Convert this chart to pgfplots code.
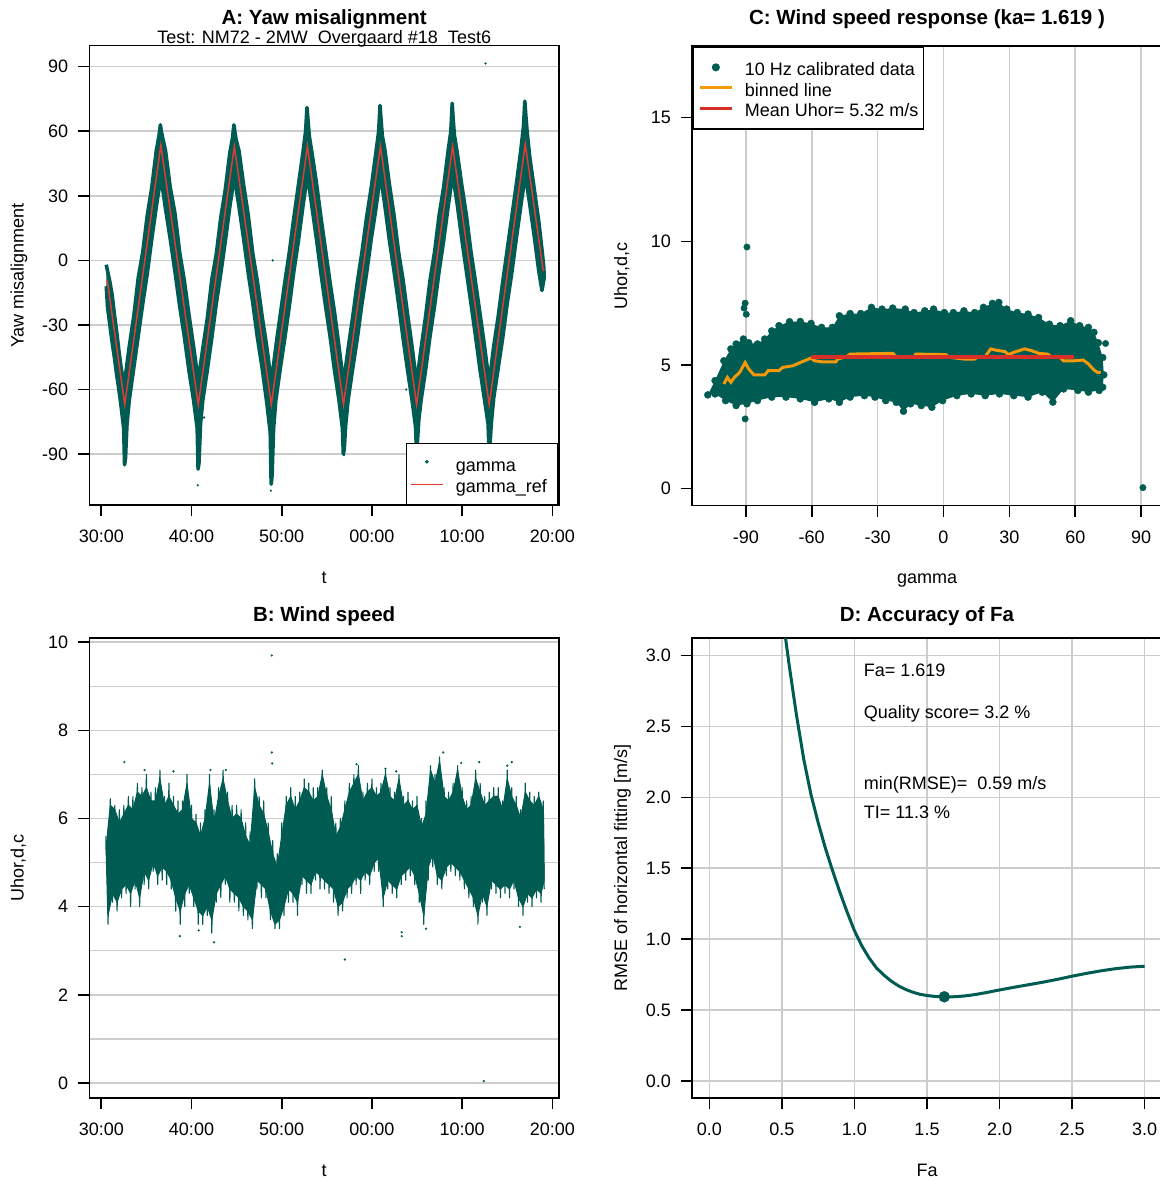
\documentclass[border=0pt]{standalone}
\usepackage{fontspec}
\setmainfont{Liberation Sans}
\usepackage{pgfplots}
\pgfplotsset{compat=1.18}
\newcommand\fnormal{\fontsize{18bp}{21bp}\selectfont}
\newcommand\ftitle{\fontsize{20.5bp}{24bp}\selectfont\bfseries}
\definecolor{tealc}{RGB}{0,92,82}
\definecolor{redA}{RGB}{226,58,52}
\definecolor{orangeC}{RGB}{245,152,10}
\definecolor{redC}{RGB}{214,48,40}
\definecolor{gridc}{RGB}{204,204,204}
\pgfplotsset{
 rstyle/.style={
  scale only axis,
  axis line style={line width=1.6bp,black},
  tick style={line width=1.6bp,black},
  major tick length=11bp,
  minor tick length=0bp,
  tick align=outside,
  xtick pos=left, ytick pos=left,
  ticklabel style={font=\fnormal},
  xticklabel style={anchor=center, yshift=-20.4bp},
  yticklabel style={anchor=east, inner sep=0pt, xshift=-10bp},
  grid style={line width=1.6bp, gridc},
  minor grid style={line width=1.6bp, gridc},
 },
 lineimg/.style={legend image code/.code={\draw[##1] (0bp,#1) -- (32.6bp,#1);}},
 markimg/.style={legend image code/.code={\draw[mark repeat=2,mark phase=2,##1] plot coordinates {(0bp,#1) (16.3bp,#1) (32.6bp,#1)};}},
}
\begin{document}
\begin{tikzpicture}
% ---------------- A ----------------
\begin{axis}[rstyle, at={(89.3bp,674.7bp)}, anchor=south west,
 width=469.7bp, height=459.6bp,
 xmin=28.67, xmax=80.74, ymin=-113.8, ymax=99.76,
 xtick={30,40,50,60,70,80}, xticklabels={30:00,40:00,50:00,00:00,10:00,20:00},
 ytick={-90,-60,-30,0,30,60,90}, yticklabels={-90,-60,-30,0,30,60,90},
 ymajorgrids,
 legend cell align=left,
 legend style={at={(1,0)}, anchor=south east, draw=black, line width=1.6bp, fill=white,
   font=\fnormal, inner xsep=3.4bp, inner ysep=12bp, row sep=4.2bp, column sep=0bp,
   nodes={inner sep=0pt, text height=16.4bp, text depth=0bp, text width=98.9bp, align=left},
   /tikz/every odd column/.append style={column sep=12bp}},
]
\addplot[fill=tealc, draw=tealc, line width=3.6bp, line join=round, forget plot] coordinates {
(30.55,-2) (30.7,-5) (30.95,-10) (31.2,-16) (31.45,-25) (31.7,-33) (31.95,-42) (32.2,-50) (32.45,-56) (32.6,-56)
(33.1,-40) (33.6,-26) (34.1,-8) (34.6,4) (35.1,21) (35.6,34) (36.1,51) (36.4,58) (36.55,63) (36.65,60) (36.8,57)
(37.12,51) (37.64,34) (38.16,22) (38.68,4) (39.19,-9) (39.71,-25) (40.23,-40) (40.75,-56)
(41.25,-41) (41.75,-27) (42.25,-9) (42.75,3) (43.25,20) (43.75,33) (44.25,50) (44.55,57) (44.7,63) (44.8,60) (44.95,56)
(45.26,51) (45.78,35) (46.29,21) (46.8,3) (47.31,-10) (47.83,-26) (48.34,-40) (48.85,-57)
(49.35,-40) (49.85,-25) (50.35,-10) (50.85,4) (51.35,20) (51.85,35) (52.35,50) (52.65,60) (52.8,71) (52.9,66) (53.05,58)
(53.35,50) (53.85,36) (54.35,20) (54.85,5) (55.35,-10) (55.85,-24) (56.35,-40) (56.85,-57)
(57.36,-41) (57.88,-26) (58.39,-10) (58.9,4) (59.41,20) (59.93,34) (60.44,50) (60.75,60) (60.9,72) (61.0,66) (61.15,58)
(61.45,51) (61.95,35) (62.45,21) (62.95,4) (63.45,-9) (63.95,-25) (64.45,-40) (64.95,-57)
(65.45,-41) (65.95,-26) (66.45,-9) (66.95,4) (67.45,21) (67.95,34) (68.45,51) (68.75,60) (68.9,73) (69.0,66) (69.15,58)
(69.46,50) (69.96,35) (70.47,21) (70.98,4) (71.48,-10) (71.99,-25) (72.49,-40) (73.0,-57)
(73.5,-40) (74.0,-26) (74.5,-10) (75.0,5) (75.5,20) (76.0,35) (76.5,51) (76.8,62) (76.95,74) (77.05,68) (77.2,60)
(77.5,48) (78.0,33) (78.5,18) (78.85,5) (79.05,-3)
(79.1,-8) (78.85,-14) (78.5,-5) (78.0,11) (77.5,26) (77.0,40)
(76.5,25) (76.0,10) (75.5,-6) (75.0,-20) (74.5,-36) (74.0,-50) (73.5,-64) (73.25,-75) (73.08,-86) (72.98,-88) (72.88,-76)
(72.49,-65) (71.99,-51) (71.48,-35) (70.98,-20) (70.47,-5) (69.96,10) (69.46,26) (68.95,40)
(68.45,25) (67.95,9) (67.45,-5) (66.95,-21) (66.45,-35) (65.95,-51) (65.45,-65) (65.2,-74) (65.03,-85) (64.93,-87) (64.83,-77)
(64.45,-65) (63.95,-51) (63.45,-36) (62.95,-20) (62.45,-5) (61.95,9) (61.45,25) (60.95,40)
(60.44,24) (59.93,10) (59.41,-6) (58.9,-20) (58.39,-36) (57.88,-50) (57.36,-65) (57.1,-76) (56.93,-88) (56.83,-90) (56.73,-78)
(56.35,-65) (55.85,-51) (55.35,-35) (54.85,-21) (54.35,-6) (53.85,10) (53.35,25) (52.85,40)
(52.35,25) (51.85,9) (51.35,-5) (50.85,-21) (50.35,-36) (49.85,-50) (49.35,-65) (49.1,-78) (48.93,-100) (48.83,-104) (48.73,-80)
(48.34,-66) (47.83,-50) (47.31,-36) (46.8,-20) (46.29,-6) (45.78,10) (45.26,25) (44.75,39)
(44.25,25) (43.75,9) (43.25,-6) (42.75,-20) (42.25,-36) (41.75,-51) (41.25,-65) (41.0,-76) (40.83,-94) (40.73,-97) (40.63,-78)
(40.23,-65) (39.71,-51) (39.19,-35) (38.68,-21) (38.16,-5) (37.64,10) (37.12,24) (36.6,39)
(36.1,25) (35.6,10) (35.1,-6) (34.6,-20) (34.1,-35) (33.6,-50) (33.1,-65) (32.85,-76) (32.68,-92) (32.58,-95) (32.48,-78)
(32.2,-68) (31.95,-60) (31.7,-53) (31.45,-45) (31.2,-38) (30.95,-30) (30.7,-22) (30.55,-12)
};
\addplot[only marks, mark=*, mark size=0.9bp, tealc, markimg=2bp] coordinates {
(72.6,91.5) (49.0,0) (40.7,-104.5) (48.8,-107) (56.9,-90.5) (63.8,-60) (41.4,-73)
};
\addplot[redA, line width=1.5bp, lineimg=0bp] coordinates {
(30.65,-9) (32.6,-67) (36.6,53.5) (40.75,-67) (44.75,53) (48.85,-67) (52.85,53) (56.85,-67)
(60.95,53) (64.95,-67) (68.95,53) (73.0,-67) (77.0,54) (79.0,-5)
};
\legend{gamma, gamma\_ref}
\end{axis}
% ---------------- B ----------------
\begin{axis}[rstyle, at={(89.3bp,81.7bp)}, anchor=south west,
 width=469.7bp, height=460bp,
 xmin=28.67, xmax=80.74, ymin=-0.35, ymax=10.09,
 xtick={30,40,50,60,70,80}, xticklabels={30:00,40:00,50:00,00:00,10:00,20:00},
 ytick={0,2,4,6,8,10}, yticklabels={0,2,4,6,8,10},
 minor ytick={1,3,5,7,9},
 ymajorgrids, yminorgrids,
]
\addplot[fill=tealc, draw=tealc, line width=1bp, line join=round] coordinates {
(30.5,5.3) (31.0,6.3) (31.5,6.2) (32.0,5.9) (32.5,6.1) (33.0,6.3) (33.5,6.2) (34.0,6.6) (34.5,6.5)
(35.0,6.7) (35.5,6.4) (36.0,6.4) (36.5,6.9) (37.0,6.3) (37.5,6.5) (38.0,6.3) (38.5,6.1) (39.0,6.2)
(39.5,6.8) (40.0,6.0) (40.5,5.9) (41.0,5.6) (41.5,6.0) (42.0,6.8) (42.5,5.9) (43.0,6.5) (43.5,6.9)
(44.0,6.4) (44.5,6.0) (45.0,6.1) (45.5,6.0) (46.0,5.6) (46.5,5.4) (47.0,6.7) (47.5,6.3) (48.0,6.1)
(48.5,5.7) (49.0,5.2) (49.5,4.9) (50.0,5.6) (50.5,6.3) (51.0,6.5) (51.5,6.2) (52.0,6.4) (52.5,6.7)
(53.0,6.6) (53.5,6.4) (54.0,6.5) (54.5,7.0) (55.0,6.5) (55.5,6.2) (56.0,5.6) (56.5,5.8) (57.0,6.2)
(57.5,6.6) (58.0,6.8) (58.5,7.0) (59.0,6.4) (59.5,6.6) (60.0,6.7) (60.5,6.5) (61.0,6.6) (61.5,7.0)
(62.0,6.5) (62.5,6.4) (63.0,6.9) (63.5,6.3) (64.0,6.4) (64.5,6.2) (65.0,6.3) (65.5,5.8) (66.0,6.1)
(66.5,7.1) (67.0,6.8) (67.5,7.3) (68.0,6.5) (68.5,6.4) (69.0,6.6) (69.5,7.1) (70.0,6.5) (70.5,6.2)
(71.0,6.3) (71.5,6.9) (72.0,6.6) (72.5,6.3) (73.0,6.4) (73.5,6.5) (74.0,6.5) (74.5,6.2) (75.0,6.9)
(75.5,6.5) (76.0,6.3) (76.5,6.0) (77.0,6.6) (77.5,6.4) (78.0,6.3) (78.5,6.5) (79.0,6.2)
(79.1,4.6) (78.75,4.3) (78.25,4.4) (77.75,4.2) (77.25,4.3) (76.75,4.0) (76.25,4.2) (75.75,4.6)
(75.25,4.4) (74.75,4.5) (74.25,4.4) (73.75,4.5) (73.25,4.6) (72.75,4.0) (72.25,4.3) (71.75,3.8)
(71.25,4.2) (70.75,4.4) (70.25,4.6) (69.75,4.8) (69.25,4.9) (68.75,5.0) (68.25,4.9) (67.75,4.6)
(67.25,4.7) (66.75,5.2) (66.25,4.9) (65.75,3.8) (65.25,4.3) (64.75,4.7) (64.25,4.9) (63.75,4.8)
(63.25,4.7) (62.75,4.4) (62.25,4.5) (61.75,4.6) (61.25,4.2) (60.75,5.1) (60.25,5.0) (59.75,4.7)
(59.25,4.8) (58.75,4.6) (58.25,4.7) (57.75,4.5) (57.25,4.4) (56.75,4.1) (56.25,4.0) (55.75,4.4)
(55.25,4.5) (54.75,4.6) (54.25,4.7) (53.75,4.8) (53.25,4.5) (52.75,4.6) (52.25,4.7) (51.75,4.1)
(51.25,4.3) (50.75,4.4) (50.25,4.0) (49.75,3.7) (49.25,3.6) (48.75,3.9) (48.25,4.4) (47.75,4.5)
(47.25,4.6) (46.75,3.7) (46.25,3.9) (45.75,4.0) (45.25,4.2) (44.75,4.3) (44.25,4.4) (43.75,4.7)
(43.25,4.5) (42.75,4.3) (42.25,3.7) (41.75,4.0) (41.25,3.8) (40.75,3.9) (40.25,4.2) (39.75,4.5)
(39.25,4.3) (38.75,3.9) (38.25,4.2) (37.75,4.6) (37.25,4.8) (36.75,4.9) (36.25,4.7) (35.75,5.0)
(35.25,4.6) (34.75,4.8) (34.25,4.2) (33.75,4.6) (33.25,4.3) (32.75,4.5) (32.25,4.4) (31.75,4.1)
(31.25,4.3) (30.75,3.8)
};
\addplot[tealc, line width=1.1bp, line join=round] coordinates {
(30.50,5.6) (30.75,3.6)
(31.00,6.45) (31.25,4.1) (31.50,6.3) (31.75,3.9)
(32.00,6.2) (32.25,4.2) (32.50,6.3) (32.75,4.3)
(33.00,6.5) (33.25,4.0) (33.50,6.5) (33.75,4.4)
(34.00,6.8) (34.25,4.0) (34.50,6.7) (34.75,4.5)
(35.00,7.0) (35.25,4.4) (35.50,6.6) (35.75,4.8)
(36.00,6.7) (36.25,4.5) (36.50,7.1) (36.75,4.6)
(37.00,6.5) (37.25,4.5) (37.50,6.8) (37.75,4.4)
(38.00,6.5) (38.25,3.9) (38.50,6.4) (38.75,3.6)
(39.00,6.4) (39.25,4.0) (39.50,7.0) (39.75,4.3)
(40.00,6.3) (40.25,4.0) (40.50,6.1) (40.75,3.6)
(41.00,5.9) (41.25,3.6) (41.50,6.2) (41.75,3.8)
(42.00,7.0) (42.25,3.4) (42.50,6.2) (42.75,4.1)
(43.00,6.7) (43.25,4.2) (43.50,7.1) (43.75,4.5)
(44.00,6.6) (44.25,4.1) (44.50,6.3) (44.75,4.1)
(45.00,6.3) (45.25,3.9) (45.50,6.2) (45.75,3.8)
(46.00,5.9) (46.25,3.7) (46.50,5.7) (46.75,3.5)
(47.00,6.9) (47.25,4.4) (47.50,6.5) (47.75,4.2)
(48.00,6.4) (48.25,4.2) (48.50,5.9) (48.75,3.7)
(49.00,5.5) (49.25,3.5) (49.50,5.2) (49.75,3.5)
(50.00,5.9) (50.25,3.8) (50.50,6.5) (50.75,4.1)
(51.00,6.7) (51.25,4.1) (51.50,6.5) (51.75,3.8)
(52.00,6.6) (52.25,4.5) (52.50,6.9) (52.75,4.3)
(53.00,6.8) (53.25,4.3) (53.50,6.7) (53.75,4.6)
(54.00,6.7) (54.25,4.4) (54.50,7.1) (54.75,4.4)
(55.00,6.7) (55.25,4.3) (55.50,6.5) (55.75,4.1)
(56.00,5.9) (56.25,3.8) (56.50,6.0) (56.75,3.9)
(57.00,6.4) (57.25,4.2) (57.50,6.8) (57.75,4.3)
(58.00,7.0) (58.25,4.5) (58.50,7.2) (58.75,4.3)
(59.00,6.6) (59.25,4.6) (59.50,6.8) (59.75,4.5)
(60.00,6.9) (60.25,4.8) (60.50,6.7) (60.75,4.8)
(61.00,6.8) (61.25,4.0) (61.50,7.1) (61.75,4.4)
(62.00,6.7) (62.25,4.3) (62.50,6.6) (62.75,4.2)
(63.00,7.0) (63.25,4.5) (63.50,6.5) (63.75,4.6)
(64.00,6.6) (64.25,4.7) (64.50,6.4) (64.75,4.5)
(65.00,6.5) (65.25,4.1) (65.50,6.0) (65.75,3.6)
(66.00,6.4) (66.25,4.6) (66.50,7.2) (66.75,4.9)
(67.00,7.0) (67.25,4.5) (67.50,7.4) (67.75,4.4)
(68.00,6.7) (68.25,4.7) (68.50,6.6) (68.75,4.8)
(69.00,6.8) (69.25,4.7) (69.50,7.2) (69.75,4.6)
(70.00,6.7) (70.25,4.4) (70.50,6.4) (70.75,4.2)
(71.00,6.5) (71.25,4.0) (71.50,7.1) (71.75,3.6)
(72.00,6.8) (72.25,4.1) (72.50,6.5) (72.75,3.8)
(73.00,6.6) (73.25,4.4) (73.50,6.7) (73.75,4.3)
(74.00,6.7) (74.25,4.2) (74.50,6.4) (74.75,4.3)
(75.00,7.1) (75.25,4.2) (75.50,6.7) (75.75,4.4)
(76.00,6.5) (76.25,4.0) (76.50,6.2) (76.75,3.8)
(77.00,6.8) (77.25,4.1) (77.50,6.6) (77.75,4.0)
(78.00,6.5) (78.25,4.2) (78.50,6.6) (78.75,4.1)
(79.00,6.4) (79.10,4.4)
};
\addplot[only marks, mark=*, mark size=0.9bp, tealc] coordinates {
(32.56,7.28) (34.8,7.1) (38.0,7.07) (42.1,7.1) (43.8,7.1) (48.9,7.5) (48.95,7.25) (48.9,9.7)
(58.3,7.23) (61.5,7.13) (62.7,7.07) (67.9,7.5) (69.9,7.26) (71.9,7.28) (75.0,7.2) (75.5,7.28)
(38.7,3.33) (40.8,3.46) (42.5,3.19) (57.0,2.8) (63.3,3.42) (63.3,3.33) (66.0,3.5) (76.4,3.54) (72.4,0.04)
};
\end{axis}
% ---------------- C ----------------
\begin{axis}[rstyle, at={(692bp,674.3bp)}, anchor=south west,
 width=470bp, height=459.7bp,
 xmin=-114.5, xmax=99.5, ymin=-0.69, ymax=17.9,
 xtick={-90,-60,-30,0,30,60,90}, xticklabels={-90,-60,-30,0,30,60,90},
 ytick={0,5,10,15}, yticklabels={0,5,10,15},
 xmajorgrids,
 legend cell align=left,
 legend style={at={(0,1)}, anchor=north west, draw=black, line width=1.6bp, fill=white,
   font=\fnormal, inner xsep=5bp, inner ysep=12.1bp, row sep=3.7bp, column sep=0bp,
   nodes={inner sep=0pt, text height=16.9bp, text depth=0bp},
   /tikz/every odd column/.append style={column sep=11bp}},
]
\addplot[fill=tealc, draw=none, forget plot] coordinates {
(-107.3,3.79) (-104,4.37) (-100,5.17) (-96.8,5.65) (-94.4,5.85) (-91.1,6.05) (-88.7,5.9) (-84.7,5.85)
(-81.4,6.05) (-78.2,6.38) (-74.9,6.59) (-70.1,6.75) (-65.2,6.76) (-60.3,6.68) (-55.5,6.52) (-50.6,6.52)
(-47.4,6.99) (-42.5,7.08) (-37.7,7.08) (-32.8,7.33) (-28,7.26) (-23.1,7.3) (-17.4,7.26) (-13.4,7.12)
(-8.5,7.19) (-4.5,7.26) (0.4,7.12) (4.5,7.12) (9.3,7.19) (14.2,7.12) (18.2,7.33) (22.3,7.49) (25.2,7.53)
(28.8,7.26) (33.6,7.12) (38.5,7.06) (43.3,6.92) (48.2,6.65) (53.1,6.59) (57.9,6.79) (62,6.59) (66,6.52)
(68.5,6.32) (70.5,5.9) (72.5,5.3) (73,4.6)
(72.5,4.1) (70.9,3.97) (66,3.9) (61.2,3.97) (54.7,4.03) (49.8,3.5) (45,3.9) (38.5,3.7) (32,3.76)
(25.5,3.83) (19,3.76) (12.6,3.83) (6.1,3.76) (-0.4,3.56) (-5.3,3.29) (-10.1,3.36) (-15,3.43) (-18.2,3.13)
(-21.5,3.49) (-26.3,3.56) (-31.2,3.7) (-36,3.76) (-42.5,3.7) (-47.4,3.49) (-52.2,3.63) (-58.7,3.49)
(-65.2,3.63) (-71.7,3.7) (-78.2,3.7) (-84.7,3.56) (-89.5,3.43) (-94.4,3.36) (-99.2,3.56) (-104,3.83)
};
\addplot[only marks, mark=*, mark size=3.5bp, tealc, forget plot] coordinates {
(-107.3,3.79) (-104,4.37) (-100,5.17) (-96.8,5.65) (-94.4,5.85) (-91.1,6.05) (-88.7,5.9) (-84.7,5.85)
(-81.4,6.05) (-78.2,6.38) (-74.9,6.59) (-70.1,6.75) (-65.2,6.76) (-60.3,6.68) (-55.5,6.52) (-50.6,6.52)
(-47.4,6.99) (-42.5,7.08) (-37.7,7.08) (-32.8,7.33) (-28,7.26) (-23.1,7.3) (-17.4,7.26) (-13.4,7.12)
(-8.5,7.19) (-4.5,7.26) (0.4,7.12) (4.5,7.12) (9.3,7.19) (14.2,7.12) (18.2,7.33) (22.3,7.49) (25.2,7.53)
(28.8,7.26) (33.6,7.12) (38.5,7.06) (43.3,6.92) (48.2,6.65) (53.1,6.59) (57.9,6.79) (62,6.59) (66,6.52)
(68.5,6.32) (70.5,5.9) (72.5,5.3) (73,4.6)
(72.5,4.1) (70.9,3.97) (66,3.9) (61.2,3.97) (54.7,4.03) (49.8,3.5) (45,3.9) (38.5,3.7) (32,3.76)
(25.5,3.83) (19,3.76) (12.6,3.83) (6.1,3.76) (-0.4,3.56) (-5.3,3.29) (-10.1,3.36) (-15,3.43) (-18.2,3.13)
(-21.5,3.49) (-26.3,3.56) (-31.2,3.7) (-36,3.76) (-42.5,3.7) (-47.4,3.49) (-52.2,3.63) (-58.7,3.49)
(-65.2,3.63) (-71.7,3.7) (-78.2,3.7) (-84.7,3.56) (-89.5,3.43) (-94.4,3.36) (-99.2,3.56) (-104,3.83)
};
\addplot[only marks, mark=*, mark size=3.2bp, tealc, markimg=0bp] coordinates {
(-89.5,9.77) (-90.3,7.5) (-90.8,7.3) (-89.8,7.05) (-90.3,2.82) (90.8,0.04) (73.8,5.87)
};
\addplot[orangeC, line width=3bp, lineimg=0bp] coordinates {
(-100,4.23) (-98.4,4.5) (-96.8,4.3) (-95.2,4.5) (-92.8,4.7) (-90.3,5.1) (-88.7,4.84) (-86.3,4.6)
(-81.4,4.6) (-79.8,4.77) (-74.9,4.77) (-73.3,4.9) (-68.5,4.97) (-65.2,5.1) (-60.3,5.28) (-58.7,5.17)
(-55.5,5.13) (-49,5.13) (-48.2,5.24) (-44.1,5.34) (-42.5,5.44) (-23.1,5.47) (-21.5,5.34) (-13.4,5.34)
(-12.6,5.44) (1,5.42) (2.8,5.31) (9.3,5.24) (14.2,5.24) (15.8,5.34) (19,5.34) (21.5,5.65) (23.9,5.6)
(28,5.54) (29.6,5.42) (32,5.51) (36.9,5.65) (40.1,5.58) (43.4,5.47) (47.4,5.44) (49,5.34) (53.1,5.31)
(54.7,5.17) (59.6,5.17) (63.6,5.2) (66,5.04) (68.5,4.8) (70.1,4.7) (71.7,4.7)
};
\addplot[redC, line width=3.5bp, lineimg=0bp] coordinates {(-60.2,5.32) (59.4,5.32)};
\legend{10 Hz calibrated data, binned line, Mean Uhor= 5.32 m/s}
\end{axis}
% ---------------- D ----------------
\begin{axis}[rstyle, at={(692bp,81.7bp)}, anchor=south west,
 width=470bp, height=460bp,
 xmin=-0.12, xmax=3.12, ymin=-0.12, ymax=3.12,
 xtick={0,0.5,1,1.5,2,2.5,3}, xticklabels={0.0,0.5,1.0,1.5,2.0,2.5,3.0},
 ytick={0,0.5,1,1.5,2,2.5,3}, yticklabels={0.0,0.5,1.0,1.5,2.0,2.5,3.0},
 xmajorgrids, ymajorgrids,
]
\addplot[tealc, line width=3bp] coordinates {
(0.50,3.35) (0.525,3.12) (0.55,2.93) (0.60,2.58) (0.65,2.27) (0.70,2.02) (0.75,1.82) (0.80,1.64)
(0.85,1.48) (0.90,1.33) (0.95,1.19) (1.00,1.06) (1.05,0.955) (1.10,0.87) (1.15,0.80) (1.20,0.75)
(1.25,0.708) (1.30,0.674) (1.35,0.648) (1.40,0.628) (1.45,0.613) (1.50,0.604) (1.55,0.598) (1.60,0.595)
(1.65,0.594) (1.70,0.596) (1.75,0.600) (1.80,0.606) (1.85,0.614) (1.90,0.623) (1.95,0.633) (2.00,0.643)
(2.10,0.662) (2.20,0.680) (2.30,0.698) (2.40,0.718) (2.50,0.740) (2.60,0.760) (2.70,0.778) (2.80,0.793)
(2.90,0.804) (3.00,0.810)
};
\addplot[only marks, mark=*, mark size=5.5bp, tealc] coordinates {(1.619,0.595)};
\node[anchor=base west, inner sep=0pt, font=\fnormal] at (axis cs:1.063,2.849) {Fa= 1.619};
\node[anchor=base west, inner sep=0pt, font=\fnormal] at (axis cs:1.063,2.555) {Quality score= 3.2 \%};
\node[anchor=base west, inner sep=0pt, font=\fnormal] at (axis cs:1.063,2.055) {min(RMSE)= \ 0.59 m/s};
\node[anchor=base west, inner sep=0pt, font=\fnormal] at (axis cs:1.063,1.852) {TI= 11.3 \%};
\end{axis}
% ---------------- titles and labels ----------------
\node[anchor=base, inner sep=0pt, font=\ftitle] at (324.15bp,1155.7bp) {A: Yaw misalignment};
\node[anchor=base, inner sep=0pt, font=\fnormal] at (324.15bp,1136bp) {Test: NM72 - 2MW \ Overgaard \#18 \ Test6};
\node[anchor=base, inner sep=0pt, font=\ftitle] at (927bp,1155.7bp) {C: Wind speed response (ka= 1.619 )};
\node[anchor=base, inner sep=0pt, font=\ftitle] at (324.15bp,558.2bp) {B: Wind speed};
\node[anchor=base, inner sep=0pt, font=\ftitle] at (927bp,558.2bp) {D: Accuracy of Fa};
\node[anchor=base, inner sep=0pt, font=\fnormal] at (324.15bp,596bp) {t};
\node[anchor=base, inner sep=0pt, font=\fnormal] at (927bp,596bp) {gamma};
\node[anchor=base, inner sep=0pt, font=\fnormal] at (324.15bp,4bp) {t};
\node[anchor=base, inner sep=0pt, font=\fnormal] at (927bp,4bp) {Fa};
\node[anchor=base, rotate=90, inner sep=0pt, font=\fnormal] at (23.5bp,904.5bp) {Yaw misalignment};
\node[anchor=base, rotate=90, inner sep=0pt, font=\fnormal] at (23.5bp,311.7bp) {Uhor,d,c};
\node[anchor=base, rotate=90, inner sep=0pt, font=\fnormal] at (627bp,904.1bp) {Uhor,d,c};
\node[anchor=base, rotate=90, inner sep=0pt, font=\fnormal] at (627bp,311.7bp) {RMSE of horizontal fitting [m/s]};
\pgfresetboundingbox
\path (0,0) rectangle (1160bp,1180bp);
\end{tikzpicture}
\end{document}
